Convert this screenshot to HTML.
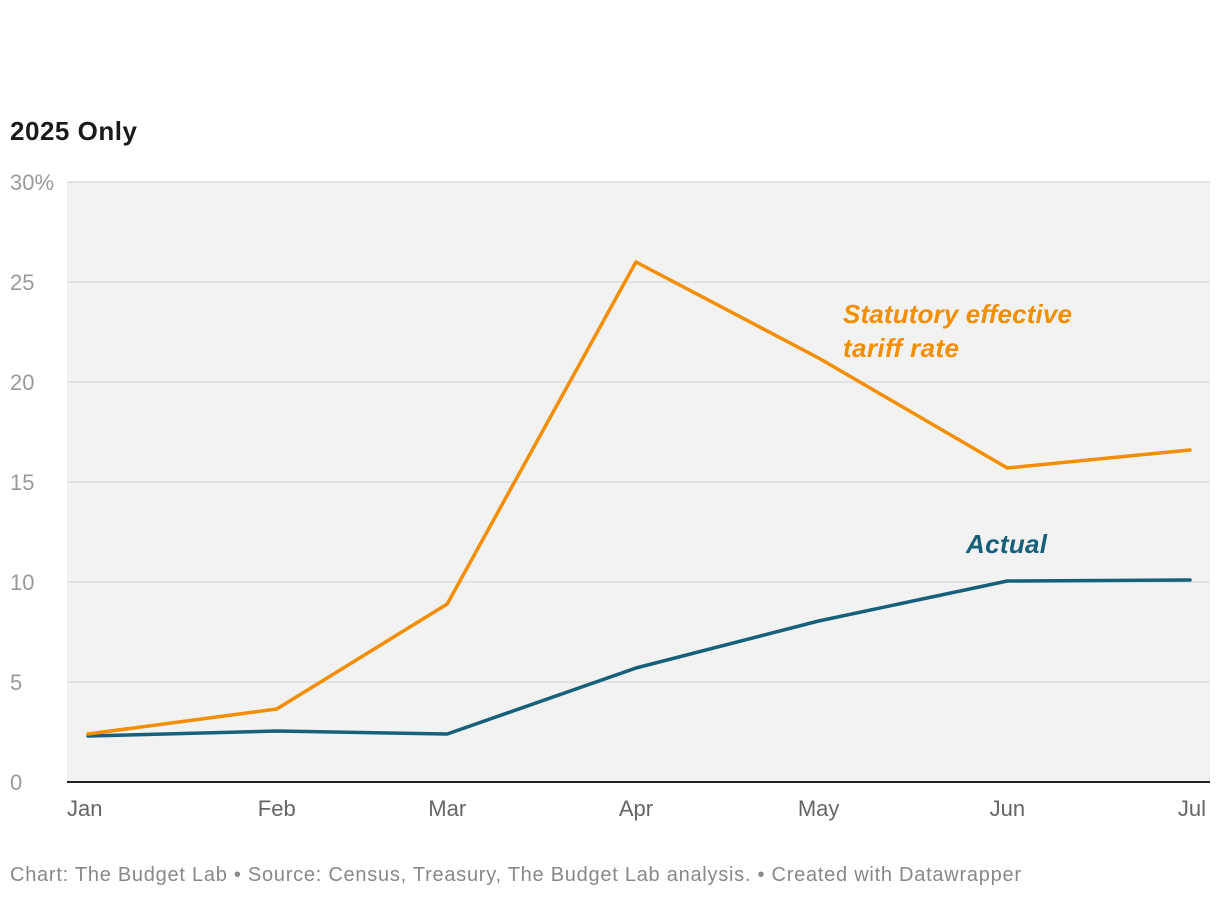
<!DOCTYPE html>
<html><head><meta charset="utf-8"><style>
body{margin:0;background:#fff;font-family:"Liberation Sans",sans-serif;}
</style></head><body>
<svg width="1220" height="898">
<text x="10" y="140" font-size="26" font-weight="bold" fill="#1a1a1a" textLength="127">2025 Only</text>
<rect x="67" y="182" width="1143" height="600" fill="#f2f2f2"/>
<g id="grid"></g>
<g id="lines"></g>
<text x="843" y="323" font-size="26" font-weight="bold" font-style="italic" fill="#f28e00" textLength="229">Statutory effective</text>
<text x="843" y="357" font-size="26" font-weight="bold" font-style="italic" fill="#f28e00" textLength="116">tariff rate</text>
<text x="966" y="553" font-size="26" font-weight="bold" font-style="italic" fill="#16607a" textLength="81">Actual</text>
<text x="10" y="881" font-size="20" fill="#888" textLength="1011">Chart: The Budget Lab • Source: Census, Treasury, The Budget Lab analysis.  • Created with Datawrapper</text>
</svg>
<script>
const months=["Jan","Feb","Mar","Apr","May","Jun","Jul"];
const dayOfYear=[0,31,59,90,120,151,181];
const statutory=[2.4,3.65,8.9,26,21.2,15.7,16.6];
const actual=[2.3,2.55,2.4,5.7,8.05,10.05,10.1];
const yTicks=[0,5,10,15,20,25,30];
const yTickLabels=["0","5","10","15","20","25","30%"];
const NS="http://www.w3.org/2000/svg";
const x=d=>88+d*(1102/181);
const y=v=>782-v*20;
const grid=document.getElementById('grid');
yTicks.forEach((t,i)=>{
  if(t>0){const l=document.createElementNS(NS,'line');
  l.setAttribute('x1',67);l.setAttribute('x2',1210);l.setAttribute('y1',y(t));l.setAttribute('y2',y(t));
  l.setAttribute('stroke','#dddddd');l.setAttribute('stroke-width','1.5');
  
  
  grid.appendChild(l);}
  const tx=document.createElementNS(NS,'text');
  tx.setAttribute('x',10);tx.setAttribute('y',y(t)+8);tx.setAttribute('font-size','22');tx.setAttribute('fill','#9a9a9a');
  tx.textContent=yTickLabels[i];
  
  
  grid.appendChild(tx);
});
const base=document.createElementNS(NS,'line');
base.setAttribute('x1',67);base.setAttribute('x2',1210);base.setAttribute('y1',782);base.setAttribute('y2',782);
base.setAttribute('stroke','#222');base.setAttribute('stroke-width','2');


grid.appendChild(base);
months.forEach((m,i)=>{
  const tx=document.createElementNS(NS,'text');
  tx.setAttribute('x',x(dayOfYear[i]));tx.setAttribute('y',816);tx.setAttribute('font-size','22');tx.setAttribute('fill','#666');
  tx.setAttribute('text-anchor',i==months.length-1?'end':(i==0?'start':'middle'));
  if(i==months.length-1)tx.setAttribute('x',x(dayOfYear[i])+16);
  if(i==0)tx.setAttribute('x',x(dayOfYear[i])-21);
  tx.textContent=m;
  
  
  grid.appendChild(tx);
});
const lines=document.getElementById('lines');
function drawLine(vals,color,name){
  const p=document.createElementNS(NS,'polyline');
  p.setAttribute('points',vals.map((v,i)=>x(dayOfYear[i])+','+y(v)).join(' '));
  p.setAttribute('fill','none');p.setAttribute('stroke',color);p.setAttribute('stroke-width','3.5');
  p.setAttribute('stroke-linejoin','round');p.setAttribute('stroke-linecap','round');
  
  
  lines.appendChild(p);
}
drawLine(actual,'#16607a','actual-line');
drawLine(statutory,'#f28e00','statutory-line');
</script>
</body></html>
